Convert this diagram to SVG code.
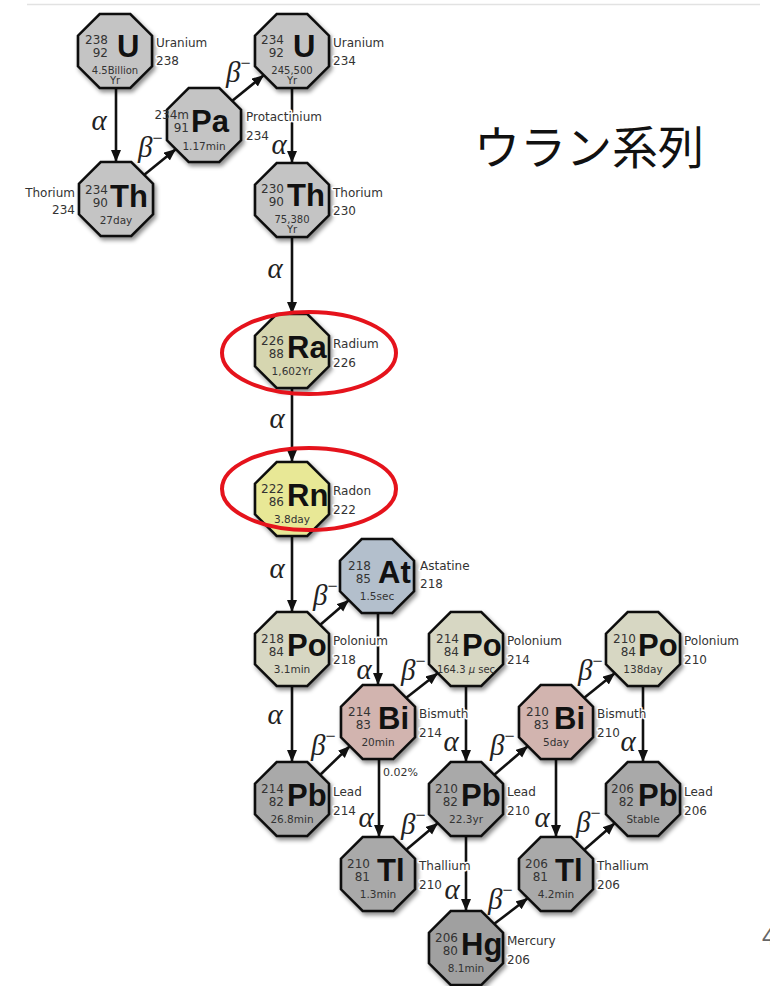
<svg xmlns="http://www.w3.org/2000/svg" xmlns:xlink="http://www.w3.org/1999/xlink" width="770" height="986" viewBox="0 0 770 986">
<style>
.oct{stroke:#111;stroke-width:2.6;stroke-linejoin:miter}
.gray{fill:#c4c4c4}.ra{fill:#d6d6b0}.rn{fill:#e8e896}.at{fill:#b3bfcc}.po{fill:#d7d7c3}.bi{fill:#d2b4af}.pb{fill:#a9a9a9}.hg{fill:#a0a0a0}
.num{font-family:"DejaVu Sans",sans-serif;font-size:12px;fill:#333;text-anchor:end}
.sym{font-family:"Liberation Sans",Arial,sans-serif;font-weight:bold;font-size:31px;fill:#111}
.hl{font-family:"DejaVu Sans",sans-serif;font-size:10.5px;fill:#333;text-anchor:middle}
.hl2{font-size:10px}
.lbl{font-family:"DejaVu Sans",sans-serif;font-size:12px;fill:#333;stroke:#fff;stroke-width:3;paint-order:stroke;stroke-linejoin:round}
.lbl.l{text-anchor:end}
.gk{font-family:"Liberation Serif","DejaVu Serif",serif;font-style:italic;font-size:29px;fill:#222}
.al{text-anchor:middle}
.ln{stroke:#111;stroke-width:2.6;fill:none}
.ring{fill:none;stroke:#e5131c;stroke-width:4}
</style>
<defs>
<polygon id="octp" class="oct" points="-15.3,-37 15.3,-37 37,-15.3 37,15.3 15.3,37 -15.3,37 -37,15.3 -37,-15.3"/>
<filter id="sh" x="-30%" y="-30%" width="170%" height="170%">
<feDropShadow dx="2" dy="3" stdDeviation="2" flood-color="#000" flood-opacity="0.45"/>
</filter>
<marker id="ah" markerUnits="userSpaceOnUse" markerWidth="13" markerHeight="11" refX="12" refY="5" orient="auto">
<path d="M0,0 L12,5 L0,10 z" fill="#111"/>
</marker>
</defs>
<rect width="770" height="986" fill="#fff"/>
<line x1="27" y1="4.5" x2="760" y2="4.5" stroke="#e2e2e2" stroke-width="1.5"/>
<text x="474" y="164" font-family="'Noto Sans CJK JP',sans-serif" font-size="46" fill="#111">ウラン系列</text>
<text x="762" y="945" font-family="'Liberation Sans',sans-serif" font-size="24" fill="#666">4</text>

<g id="connectors" fill="none">
<g class="ln" marker-end="url(#ah)">
<line x1="116" y1="88" x2="116" y2="162"/>
<line x1="292" y1="88" x2="292" y2="163"/>
<line x1="292" y1="237" x2="292" y2="314"/>
<line x1="292" y1="388" x2="292" y2="462"/>
<line x1="292" y1="536" x2="292" y2="612"/>
<line x1="292" y1="686" x2="292" y2="762"/>
<line x1="378" y1="613" x2="378" y2="685"/>
<line x1="466" y1="686" x2="466" y2="762"/>
<line x1="379" y1="759" x2="379" y2="837"/>
<line x1="643" y1="686" x2="643" y2="762"/>
<line x1="556" y1="759" x2="556" y2="837"/>
<line x1="466" y1="836" x2="466" y2="911"/>
<line x1="144" y1="175" x2="176" y2="149"/>
<line x1="232" y1="101" x2="264" y2="75"/>
<line x1="320" y1="625" x2="349" y2="600"/>
<line x1="320" y1="775" x2="350" y2="746"/>
<line x1="406" y1="698" x2="438" y2="673"/>
<line x1="406" y1="850" x2="438" y2="823"/>
<line x1="494" y1="775" x2="528" y2="746"/>
<line x1="584" y1="698" x2="615" y2="673"/>
<line x1="584" y1="850" x2="615" y2="823"/>
<line x1="494" y1="924" x2="528" y2="898"/>
</g>
<g class="gk al">
<text x="99" y="130">α</text>
<text x="279" y="154">α</text>
<text x="275" y="278">α</text>
<text x="277" y="428">α</text>
<text x="277" y="578">α</text>
<text x="275" y="724">α</text>
<text x="364" y="679">α</text>
<text x="451" y="751">α</text>
<text x="366" y="827">α</text>
<text x="628" y="751">α</text>
<text x="542" y="827">α</text>
<text x="452" y="899">α</text>
</g>
<g class="gk">
<text x="138" y="157">β<tspan dy="-13" font-size="18" font-style="normal">−</tspan></text>
<text x="226" y="82">β<tspan dy="-13" font-size="18" font-style="normal">−</tspan></text>
<text x="313" y="605">β<tspan dy="-13" font-size="18" font-style="normal">−</tspan></text>
<text x="311" y="755">β<tspan dy="-13" font-size="18" font-style="normal">−</tspan></text>
<text x="401" y="680">β<tspan dy="-13" font-size="18" font-style="normal">−</tspan></text>
<text x="401" y="834">β<tspan dy="-13" font-size="18" font-style="normal">−</tspan></text>
<text x="490" y="755">β<tspan dy="-13" font-size="18" font-style="normal">−</tspan></text>
<text x="578" y="680">β<tspan dy="-13" font-size="18" font-style="normal">−</tspan></text>
<text x="576" y="832">β<tspan dy="-13" font-size="18" font-style="normal">−</tspan></text>
<text x="488" y="909">β<tspan dy="-13" font-size="18" font-style="normal">−</tspan></text>
</g>
</g>

<g id="u238" transform="translate(115,51)">
<use href="#octp" class="gray" filter="url(#sh)"/>
<text class="num" x="-7" y="-7">238</text><text class="num" x="-7" y="6">92</text>
<text class="sym" x="2" y="6">U</text>
<text class="hl hl2" x="0" y="22.5">4.5Billion<tspan x="0" dy="10">Yr</tspan></text>
<text class="lbl" x="41" y="-4">Uranium</text><text class="lbl" x="41" y="14">238</text>
</g>
<g id="u234" transform="translate(292,51)">
<use href="#octp" class="gray" filter="url(#sh)"/>
<text class="num" x="-8" y="-7">234</text><text class="num" x="-8" y="6">92</text>
<text class="sym" x="1" y="6">U</text>
<text class="hl hl2" x="0" y="22.5">245,500<tspan x="0" dy="10">Yr</tspan></text>
<text class="lbl" x="41" y="-4">Uranium</text><text class="lbl" x="41" y="14">234</text>
</g>
<g id="pa234" transform="translate(204,125)">
<use href="#octp" class="gray" filter="url(#sh)"/>
<text class="num" x="-15" y="-6">234m</text><text class="num" x="-15" y="7">91</text>
<text class="sym" x="-13" y="7" font-size="33">Pa</text>
<text class="hl" x="0" y="24.5">1.17min</text>
<text class="lbl" x="42" y="-4">Protactinium</text><text class="lbl" x="42" y="15">234</text>
</g>
<g id="th234" transform="translate(116,199)">
<use href="#octp" class="gray" filter="url(#sh)"/>
<text class="num" x="-8" y="-5">234</text><text class="num" x="-8" y="8">90</text>
<text class="sym" x="-6" y="8">Th</text>
<text class="hl" x="0" y="25">27day</text>
<text class="lbl l" x="-41" y="-2">Thorium</text><text class="lbl l" x="-41" y="15">234</text>
</g>
<g id="th230" transform="translate(292,200)">
<use href="#octp" class="gray" filter="url(#sh)"/>
<text class="num" x="-8" y="-7">230</text><text class="num" x="-8" y="6">90</text>
<text class="sym" x="-5" y="6">Th</text>
<text class="hl hl2" x="0" y="22.5">75,380<tspan x="0" dy="10">Yr</tspan></text>
<text class="lbl" x="41" y="-3">Thorium</text><text class="lbl" x="41" y="15">230</text>
</g>
<g id="ra226" transform="translate(292,351)">
<use href="#octp" class="ra" filter="url(#sh)"/>
<text class="num" x="-8" y="-6">226</text><text class="num" x="-8" y="7">88</text>
<text class="sym" x="-5" y="7">Ra</text>
<text class="hl" x="0" y="24">1,602Yr</text>
<text class="lbl" x="41" y="-3">Radium</text><text class="lbl" x="41" y="16">226</text>
</g>
<g id="rn222" transform="translate(292,499)">
<use href="#octp" class="rn" filter="url(#sh)"/>
<text class="num" x="-8" y="-6">222</text><text class="num" x="-8" y="7">86</text>
<text class="sym" x="-5" y="7">Rn</text>
<text class="hl" x="0" y="24">3.8day</text>
<text class="lbl" x="41" y="-4">Radon</text><text class="lbl" x="41" y="15">222</text>
</g>
<g id="at218" transform="translate(377,576)">
<use href="#octp" class="at" filter="url(#sh)"/>
<text class="num" x="-6" y="-6">218</text><text class="num" x="-6" y="7">85</text>
<text class="sym" x="1" y="7">At</text>
<text class="hl" x="0" y="24">1.5sec</text>
<text class="lbl" x="43" y="-6">Astatine</text><text class="lbl" x="43" y="12">218</text>
</g>
<g id="po218" transform="translate(292,649)">
<use href="#octp" class="po" filter="url(#sh)"/>
<text class="num" x="-8" y="-6">218</text><text class="num" x="-8" y="7">84</text>
<text class="sym" x="-5" y="7">Po</text>
<text class="hl" x="0" y="24">3.1min</text>
<text class="lbl" x="41" y="-4">Polonium</text><text class="lbl" x="41" y="15">218</text>
</g>
<g id="bi214" transform="translate(378,722)">
<use href="#octp" class="bi" filter="url(#sh)"/>
<text class="num" x="-7" y="-6">214</text><text class="num" x="-7" y="7">83</text>
<text class="sym" x="0" y="7">Bi</text>
<text class="hl" x="0" y="24">20min</text>
<text class="lbl" x="41" y="-4">Bismuth</text><text class="lbl" x="41" y="15">214</text>
<text class="hl" x="5" y="54" style="text-anchor:start;font-size:11px">0.02%</text>
</g>
<g id="po214" transform="translate(466,649)">
<use href="#octp" class="po" filter="url(#sh)"/>
<text class="num" x="-7" y="-6">214</text><text class="num" x="-7" y="7">84</text>
<text class="sym" x="-4" y="7">Po</text>
<text class="hl" x="0" y="24" style="font-size:10px">164.3 <tspan font-style="italic">μ</tspan> sec</text>
<text class="lbl" x="41" y="-4">Polonium</text><text class="lbl" x="41" y="15">214</text>
</g>
<g id="po210" transform="translate(643,649)">
<use href="#octp" class="po" filter="url(#sh)"/>
<text class="num" x="-7" y="-6">210</text><text class="num" x="-7" y="7">84</text>
<text class="sym" x="-5" y="7">Po</text>
<text class="hl" x="0" y="24">138day</text>
<text class="lbl" x="41" y="-4">Polonium</text><text class="lbl" x="41" y="15">210</text>
</g>
<g id="bi210" transform="translate(556,722)">
<use href="#octp" class="bi" filter="url(#sh)"/>
<text class="num" x="-7" y="-6">210</text><text class="num" x="-7" y="7">83</text>
<text class="sym" x="-2" y="7">Bi</text>
<text class="hl" x="0" y="24">5day</text>
<text class="lbl" x="41" y="-4">Bismuth</text><text class="lbl" x="41" y="15">210</text>
</g>
<g id="pb214" transform="translate(292,799)">
<use href="#octp" class="pb" filter="url(#sh)"/>
<text class="num" x="-8" y="-6">214</text><text class="num" x="-8" y="7">82</text>
<text class="sym" x="-5" y="7">Pb</text>
<text class="hl" x="0" y="24">26.8min</text>
<text class="lbl" x="41" y="-3">Lead</text><text class="lbl" x="41" y="16">214</text>
</g>
<g id="pb210" transform="translate(466,799)">
<use href="#octp" class="pb" filter="url(#sh)"/>
<text class="num" x="-8" y="-6">210</text><text class="num" x="-8" y="7">82</text>
<text class="sym" x="-5" y="7">Pb</text>
<text class="hl" x="0" y="24">22.3yr</text>
<text class="lbl" x="41" y="-3">Lead</text><text class="lbl" x="41" y="16">210</text>
</g>
<g id="pb206" transform="translate(643,799)">
<use href="#octp" class="pb" filter="url(#sh)"/>
<text class="num" x="-9" y="-6">206</text><text class="num" x="-9" y="7">82</text>
<text class="sym" x="-5" y="7">Pb</text>
<text class="hl" x="0" y="24">Stable</text>
<text class="lbl" x="41" y="-3">Lead</text><text class="lbl" x="41" y="16">206</text>
</g>
<g id="tl210" transform="translate(378,874)">
<use href="#octp" class="pb" filter="url(#sh)"/>
<text class="num" x="-8" y="-6">210</text><text class="num" x="-8" y="7">81</text>
<text class="sym" x="-1" y="7">Tl</text>
<text class="hl" x="0" y="24">1.3min</text>
<text class="lbl" x="41" y="-4">Thallium</text><text class="lbl" x="41" y="15">210</text>
</g>
<g id="tl206" transform="translate(556,874)">
<use href="#octp" class="pb" filter="url(#sh)"/>
<text class="num" x="-8" y="-6">206</text><text class="num" x="-8" y="7">81</text>
<text class="sym" x="-1" y="7">Tl</text>
<text class="hl" x="0" y="24">4.2min</text>
<text class="lbl" x="41" y="-4">Thallium</text><text class="lbl" x="41" y="15">206</text>
</g>
<g id="hg206" transform="translate(466,948)">
<use href="#octp" class="hg" filter="url(#sh)"/>
<text class="num" x="-8" y="-6">206</text><text class="num" x="-8" y="7">80</text>
<text class="sym" x="-5" y="7">Hg</text>
<text class="hl" x="0" y="24">8.1min</text>
<text class="lbl" x="41" y="-3">Mercury</text><text class="lbl" x="41" y="16">206</text>
</g>

<g id="highlights">
<ellipse class="ring" cx="309" cy="353" rx="87" ry="41"/>
<ellipse class="ring" cx="309" cy="489" rx="87" ry="41"/>
</g>
</svg>
